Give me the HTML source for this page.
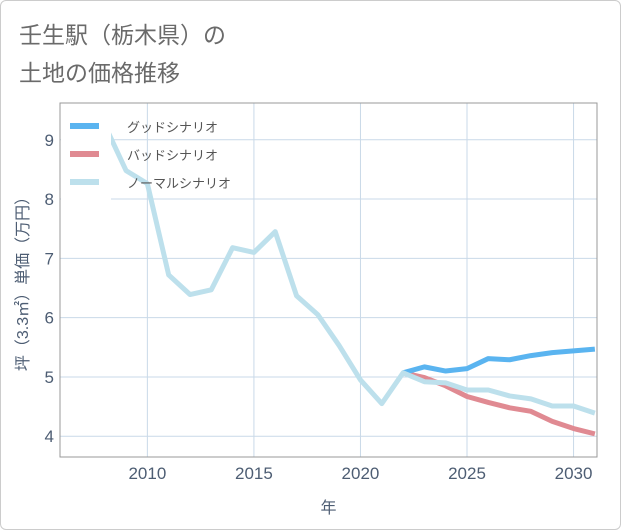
<!DOCTYPE html>
<html><head><meta charset="utf-8"><style>
html,body{margin:0;padding:0;background:#fff;}
#card{position:absolute;left:0;top:0;width:619px;height:528px;border:1px solid #ccc;border-radius:6px;background:#fff;overflow:hidden;}
.title{position:absolute;left:18px;font:23px "Liberation Sans","Noto Sans CJK JP",sans-serif;color:#6a6a6a;}
</style></head><body>
<div id="card">
<div class="title" style="top:15px">壬生駅（栃木県）の</div>
<div class="title" style="top:53px">土地の価格推移</div>
<svg id="chart" width="621" height="530" style="position:absolute;left:-1px;top:-1px"></svg>
</div>
<script>
const years=[2008,2009,2010,2011,2012,2013,2014,2015,2016,2017,2018,2019,2020,2021,2022,2023,2024,2025,2026,2027,2028,2029,2030,2031];
const normalValues=[9.25,8.48,8.26,6.72,6.39,6.47,7.18,7.1,7.45,6.37,6.05,5.53,4.95,4.55,5.07,4.92,4.9,4.78,4.78,4.68,4.63,4.51,4.51,4.39];
const futureYears=[2022,2023,2024,2025,2026,2027,2028,2029,2030,2031];
const goodValues=[5.07,5.17,5.1,5.14,5.31,5.29,5.36,5.41,5.44,5.47];
const badValues=[5.07,4.99,4.85,4.67,4.57,4.48,4.42,4.25,4.13,4.04];
const xTicks=[2010,2015,2020,2025,2030];
const yTicks=[4,5,6,7,8,9];
const legendLabels=["グッドシナリオ","バッドシナリオ","ノーマルシナリオ"];
const NS="http://www.w3.org/2000/svg";
const L=60,R=597,T=103,B=457,X0=2005.9,X1=2031.1,Y0=3.65,Y1=9.62;
const TC='#4d5d73';
const sx=v=>L+(v-X0)/(X1-X0)*(R-L);
const sy=v=>B-(v-Y0)/(Y1-Y0)*(B-T);
const svg=document.getElementById('chart');
function mk(t,a){const e=document.createElementNS(NS,t);for(const k in a)e.setAttribute(k,a[k]);svg.appendChild(e);return e;}
const clip=mk('clipPath',{id:'pc'});const cr=document.createElementNS(NS,'rect');cr.setAttribute('x',L);cr.setAttribute('y',T);cr.setAttribute('width',R-L);cr.setAttribute('height',B-T);clip.appendChild(cr);
xTicks.forEach(v=>{
 const g=mk('line',{x1:sx(v),x2:sx(v),y1:T,y2:B,stroke:'#c9d9e8','stroke-width':1});
 
 
 const t=mk('text',{x:sx(v),y:B+22,'text-anchor':'middle','font-size':17,fill:TC,'font-family':'Liberation Sans, sans-serif'});t.textContent=v;
 
 
});
yTicks.forEach(v=>{
 const g=mk('line',{x1:L,x2:R,y1:sy(v),y2:sy(v),stroke:'#c9d9e8','stroke-width':1});
 
 
 const t=mk('text',{x:L-6,y:sy(v)+6,'text-anchor':'end','font-size':17,fill:TC,'font-family':'Liberation Sans, sans-serif'});t.textContent=v;
 
 
});
const frame=mk('rect',{x:L,y:T,width:R-L,height:B-T,fill:'none',stroke:'#999','stroke-width':1});


function line(xs,ys,color,name){
 const p=mk('polyline',{points:xs.map((x,i)=>sx(x)+','+sy(ys[i])).join(' '),fill:'none',stroke:color,'stroke-width':5,'stroke-linejoin':'round','clip-path':'url(#pc)'});
 
 
}
line(futureYears,badValues,'#e08a92','bad-scenario-line');
line(futureYears,goodValues,'#5ab4f0','good-scenario-line');
line(years,normalValues,'#bde0ec','normal-scenario-line');
const lb=mk('rect',{x:L+1,y:T+1,width:50,height:100,fill:'#fff'});


const lc=['#5ab4f0','#e08a92','#bde0ec'];
legendLabels.forEach((s,i)=>{
 const y=126+i*28;
 const r=mk('rect',{x:70,y:y-3,width:29,height:6,fill:lc[i]});
 
 
 const t=mk('text',{x:127,y:y+6,'font-size':13,fill:'#555','font-family':'Liberation Sans, Noto Sans CJK JP, sans-serif'});t.textContent=s;
 
 
});
const xt=mk('text',{x:(L+R)/2,y:513,'text-anchor':'middle','font-size':16,fill:TC,'font-family':'Liberation Sans, Noto Sans CJK JP, sans-serif'});xt.textContent='年';


const yt=mk('text',{x:0,y:0,'text-anchor':'middle','font-size':16,fill:TC,'font-family':'Liberation Sans, Noto Sans CJK JP, sans-serif',transform:'translate(28,'+((T+B)/2)+') rotate(-90)'});yt.textContent='坪（3.3㎡）単価（万円）';


</script>
</body></html>
